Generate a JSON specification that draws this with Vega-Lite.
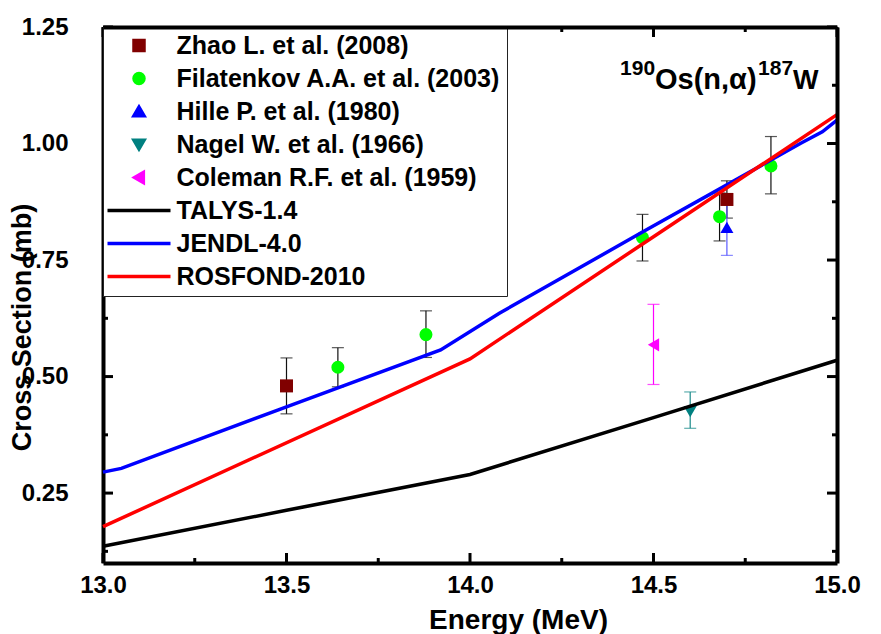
{
  "$schema": "https://vega.github.io/schema/vega-lite/v6.json",
  "width": 734,
  "height": 536,
  "autosize": {"type": "none"},
  "padding": {"left": 103, "top": 27, "right": 44, "bottom": 71},
  "background": "white",
  "config": {"view": {"stroke": null}, "font": "Liberation Sans", "axis": {"grid": false}},
  "datasets": {
    "exp": [
      {"series": "Zhao L. et al. (2008)", "energy": 13.5, "xs": 0.48, "lo": 0.42, "hi": 0.54},
      {"series": "Zhao L. et al. (2008)", "energy": 14.7, "xs": 0.88, "lo": 0.84, "hi": 0.92},
      {"series": "Filatenkov A.A. et al. (2003)", "energy": 13.64, "xs": 0.52, "lo": 0.478, "hi": 0.562},
      {"series": "Filatenkov A.A. et al. (2003)", "energy": 13.88, "xs": 0.59, "lo": 0.541, "hi": 0.641},
      {"series": "Filatenkov A.A. et al. (2003)", "energy": 14.47, "xs": 0.798, "lo": 0.748, "hi": 0.848},
      {"series": "Filatenkov A.A. et al. (2003)", "energy": 14.68, "xs": 0.843, "lo": 0.791, "hi": 0.894},
      {"series": "Filatenkov A.A. et al. (2003)", "energy": 14.82, "xs": 0.952, "lo": 0.892, "hi": 1.015},
      {"series": "Hille P. et al. (1980)", "energy": 14.7, "xs": 0.82, "lo": 0.76, "hi": 0.88},
      {"series": "Nagel W. et al. (1966)", "energy": 14.6, "xs": 0.425, "lo": 0.389, "hi": 0.467},
      {"series": "Coleman R.F. et al. (1959)", "energy": 14.5, "xs": 0.568, "lo": 0.483, "hi": 0.655}
    ],
    "calc": [
      {"series": "TALYS-1.4", "energy": 13.0, "xs": 0.136},
      {"series": "TALYS-1.4", "energy": 13.5, "xs": 0.213},
      {"series": "TALYS-1.4", "energy": 14.0, "xs": 0.29},
      {"series": "TALYS-1.4", "energy": 14.5, "xs": 0.412},
      {"series": "TALYS-1.4", "energy": 15.0, "xs": 0.535},
      {"series": "JENDL-4.0", "energy": 13.0, "xs": 0.295},
      {"series": "JENDL-4.0", "energy": 13.05, "xs": 0.303},
      {"series": "JENDL-4.0", "energy": 13.5, "xs": 0.435},
      {"series": "JENDL-4.0", "energy": 13.92, "xs": 0.557},
      {"series": "JENDL-4.0", "energy": 14.08, "xs": 0.636},
      {"series": "JENDL-4.0", "energy": 14.47, "xs": 0.81},
      {"series": "JENDL-4.0", "energy": 14.74, "xs": 0.929},
      {"series": "JENDL-4.0", "energy": 14.9, "xs": 1.0},
      {"series": "JENDL-4.0", "energy": 14.96, "xs": 1.025},
      {"series": "JENDL-4.0", "energy": 15.0, "xs": 1.05},
      {"series": "ROSFOND-2010", "energy": 13.0, "xs": 0.178},
      {"series": "ROSFOND-2010", "energy": 14.0, "xs": 0.538},
      {"series": "ROSFOND-2010", "energy": 14.5, "xs": 0.8},
      {"series": "ROSFOND-2010", "energy": 15.0, "xs": 1.062}
    ],
    "xMajor": [{"energy": 13}, {"energy": 13.5}, {"energy": 14}, {"energy": 14.5}, {"energy": 15}],
    "xMinor": [{"energy": 13.25}, {"energy": 13.75}, {"energy": 14.25}, {"energy": 14.75}],
    "yMajor": [{"xs": 0.25}, {"xs": 0.5}, {"xs": 0.75}, {"xs": 1}, {"xs": 1.25}],
    "yMinor": [{"xs": 0.125}, {"xs": 0.375}, {"xs": 0.625}, {"xs": 0.875}, {"xs": 1.125}]
  },
  "layer": [
    {
      "data": {"name": "xMajor"},
      "mark": {"type": "rule", "strokeWidth": 3, "color": "black"},
      "encoding": {
        "x": {"field": "energy", "type": "quantitative", "axis": null},
        "y": {"datum": 0.1, "type": "quantitative", "axis": null},
        "y2": {"datum": 0.1215}
      }
    },
    {
      "data": {"name": "xMajor"},
      "mark": {"type": "rule", "strokeWidth": 3, "color": "black"},
      "encoding": {
        "x": {"field": "energy", "type": "quantitative", "axis": null},
        "y": {"datum": 1.25, "type": "quantitative", "axis": null},
        "y2": {"datum": 1.2285}
      }
    },
    {
      "data": {"name": "xMinor"},
      "mark": {"type": "rule", "strokeWidth": 3, "color": "black"},
      "encoding": {
        "x": {"field": "energy", "type": "quantitative", "axis": null},
        "y": {"datum": 0.1, "type": "quantitative", "axis": null},
        "y2": {"datum": 0.1107}
      }
    },
    {
      "data": {"name": "xMinor"},
      "mark": {"type": "rule", "strokeWidth": 3, "color": "black"},
      "encoding": {
        "x": {"field": "energy", "type": "quantitative", "axis": null},
        "y": {"datum": 1.25, "type": "quantitative", "axis": null},
        "y2": {"datum": 1.2393}
      }
    },
    {
      "data": {"name": "yMajor"},
      "mark": {"type": "rule", "strokeWidth": 3, "color": "black"},
      "encoding": {
        "y": {"field": "xs", "type": "quantitative", "axis": null},
        "x": {"datum": 13, "type": "quantitative", "axis": null},
        "x2": {"datum": 13.0272}
      }
    },
    {
      "data": {"name": "yMajor"},
      "mark": {"type": "rule", "strokeWidth": 3, "color": "black"},
      "encoding": {
        "y": {"field": "xs", "type": "quantitative", "axis": null},
        "x": {"datum": 15, "type": "quantitative", "axis": null},
        "x2": {"datum": 14.9728}
      }
    },
    {
      "data": {"name": "yMinor"},
      "mark": {"type": "rule", "strokeWidth": 3, "color": "black"},
      "encoding": {
        "y": {"field": "xs", "type": "quantitative", "axis": null},
        "x": {"datum": 13, "type": "quantitative", "axis": null},
        "x2": {"datum": 13.0136}
      }
    },
    {
      "data": {"name": "yMinor"},
      "mark": {"type": "rule", "strokeWidth": 3, "color": "black"},
      "encoding": {
        "y": {"field": "xs", "type": "quantitative", "axis": null},
        "x": {"datum": 15, "type": "quantitative", "axis": null},
        "x2": {"datum": 14.9864}
      }
    },
    {
      "data": {"name": "exp"},
      "mark": {"type": "errorbar", "ticks": {"size": 12}, "thickness": 1.2},
      "encoding": {
        "x": {"field": "energy", "type": "quantitative", "axis": null},
        "y": {"field": "lo", "type": "quantitative", "axis": null},
        "y2": {"field": "hi"},
        "color": {
          "condition": [
            {"test": "datum.series == 'Hille P. et al. (1980)'", "value": "#5a5aff"},
            {"test": "datum.series == 'Nagel W. et al. (1966)'", "value": "#1a8a8a"},
            {"test": "datum.series == 'Coleman R.F. et al. (1959)'", "value": "#ff00ff"}
          ],
          "value": "#111111"
        }
      }
    },
    {
      "data": {"name": "exp"},
      "mark": {"type": "point", "filled": true, "size": 170, "opacity": 1},
      "encoding": {
        "x": {
          "field": "energy", "type": "quantitative",
          "scale": {"domain": [13, 15], "nice": false, "zero": false},
          "axis": {
            "orient": "bottom",
            "values": [13, 13.5, 14, 14.5, 15],
            "format": ".1f",
            "ticks": false,
            "domainWidth": 4, "domainColor": "black",
            "labelFont": "Liberation Sans", "labelFontSize": 24, "labelFontWeight": "bold", "labelColor": "black",
            "labelPadding": 10, "labelFlush": false, "labelOverlap": false,
            "title": "Energy (MeV)",
            "titleFont": "Liberation Sans", "titleFontSize": 28, "titleFontWeight": "bold", "titleColor": "black",
            "titleX": 415, "titleY": 65, "titleAlign": "center", "titleBaseline": "alphabetic"
          }
        },
        "y": {
          "field": "xs", "type": "quantitative",
          "scale": {"domain": [0.1, 1.25], "nice": false, "zero": false},
          "axis": {
            "orient": "left",
            "values": [0.25, 0.5, 0.75, 1, 1.25],
            "format": ".2f",
            "ticks": false,
            "domainWidth": 4, "domainColor": "black",
            "labelFont": "Liberation Sans", "labelFontSize": 24, "labelFontWeight": "bold", "labelColor": "black",
            "labelPadding": 35, "labelFlush": false, "labelOverlap": false,
            "title": "Cross Section (mb)",
            "titleFont": "Liberation Sans", "titleFontSize": 27, "titleFontWeight": "bold", "titleColor": "black",
            "titleX": -81, "titleY": 300, "titleAlign": "center", "titleBaseline": "middle", "titleAngle": 270
          }
        },
        "color": {
          "field": "series", "type": "nominal",
          "scale": {
            "domain": ["Zhao L. et al. (2008)", "Filatenkov A.A. et al. (2003)", "Hille P. et al. (1980)", "Nagel W. et al. (1966)", "Coleman R.F. et al. (1959)", "TALYS-1.4", "JENDL-4.0", "ROSFOND-2010"],
            "range": ["#800000", "#00ff00", "#0000ff", "#008080", "#ff00ff", "#000000", "#0000ff", "#ff0000"]
          },
          "legend": {
            "orient": "none", "legendX": 0, "legendY": 0,
            "title": null,
            "fillColor": "white", "strokeColor": "#222222",
            "padding": 6, "rowPadding": 7,
            "labelFont": "Liberation Sans", "labelFontSize": 25, "labelFontWeight": "bold", "labelColor": "black",
            "labelLimit": 500,
            "symbolSize": 100, "symbolStrokeWidth": 3.5, "symbolOffset": 17.5, "labelOffset": 25,
            "zindex": 1,
            "encode": {
              "symbols": {
                "update": {
                  "fill": {"scale": "color", "field": "value"},
                  "stroke": {"scale": "color", "field": "value"},
                  "shape": {"scale": "shape", "field": "value"},
                  "size": {"value": 100},
                  "opacity": {"value": 1}
                }
              }
            }
          }
        },
        "shape": {
          "field": "series", "type": "nominal",
          "scale": {
            "domain": ["Zhao L. et al. (2008)", "Filatenkov A.A. et al. (2003)", "Hille P. et al. (1980)", "Nagel W. et al. (1966)", "Coleman R.F. et al. (1959)", "TALYS-1.4", "JENDL-4.0", "ROSFOND-2010"],
            "range": ["square", "circle", "triangle-up", "triangle-down", "triangle-left", "M-6.3,0H6.3", "M-6.3,0H6.3", "M-6.3,0H6.3"]
          },
          "legend": null
        }
      }
    },
    {
      "data": {"name": "calc"},
      "mark": {"type": "line", "strokeWidth": 3.5},
      "encoding": {
        "x": {
          "field": "energy", "type": "quantitative",
          "axis": {"orient": "top", "ticks": false, "labels": false, "title": null, "domainWidth": 4, "domainColor": "black", "zindex": 2}
        },
        "y": {
          "field": "xs", "type": "quantitative",
          "axis": {"orient": "right", "ticks": false, "labels": false, "title": null, "domainWidth": 4, "domainColor": "black", "zindex": 2}
        },
        "color": {"field": "series", "type": "nominal"}
      }
    },
    {
      "data": {"values": [{}]},
      "mark": {"type": "text", "text": "190", "font": "Liberation Sans", "fontWeight": "bold", "fontSize": 21, "align": "left", "baseline": "alphabetic", "color": "black"},
      "encoding": {
        "x": {"datum": 14.409, "type": "quantitative", "axis": null},
        "y": {"datum": 1.147, "type": "quantitative", "axis": null}
      }
    },
    {
      "data": {"values": [{}]},
      "mark": {"type": "text", "text": "Os(n,α)", "font": "Liberation Sans", "fontWeight": "bold", "fontSize": 29, "align": "left", "baseline": "alphabetic", "color": "black"},
      "encoding": {
        "x": {"datum": 14.504, "type": "quantitative", "axis": null},
        "y": {"datum": 1.117, "type": "quantitative", "axis": null}
      }
    },
    {
      "data": {"values": [{}]},
      "mark": {"type": "text", "text": "187", "font": "Liberation Sans", "fontWeight": "bold", "fontSize": 21, "align": "left", "baseline": "alphabetic", "color": "black"},
      "encoding": {
        "x": {"datum": 14.785, "type": "quantitative", "axis": null},
        "y": {"datum": 1.147, "type": "quantitative", "axis": null}
      }
    },
    {
      "data": {"values": [{}]},
      "mark": {"type": "text", "text": "W", "font": "Liberation Sans", "fontWeight": "bold", "fontSize": 27, "align": "left", "baseline": "alphabetic", "color": "black"},
      "encoding": {
        "x": {"datum": 14.88, "type": "quantitative", "axis": null},
        "y": {"datum": 1.117, "type": "quantitative", "axis": null}
      }
    }
  ],
  "resolve": {"axis": {"x": "independent", "y": "independent"}}
}
